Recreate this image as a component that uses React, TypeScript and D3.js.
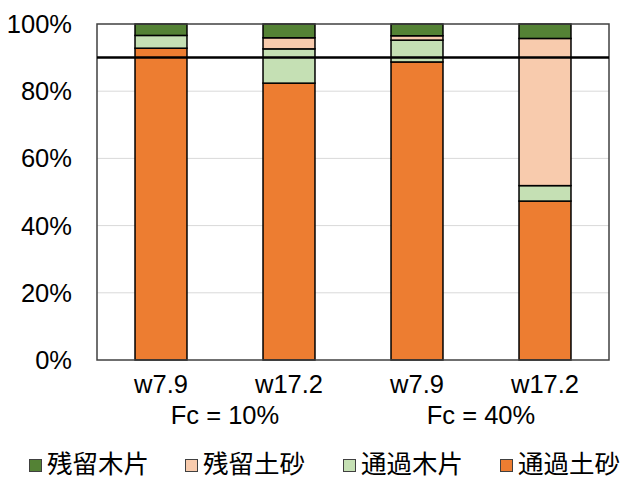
import React from "react";
import * as d3 from "d3";

const categories = ["w7.9", "w17.2", "w7.9", "w17.2"];
const groupLabels = ["Fc = 10%", "Fc = 40%"];
const seriesNames = ["通過土砂", "通過木片", "残留土砂", "残留木片"];
const passSoil = [92.8, 82.4, 88.7, 47.3];
const passWood = [3.8, 10.2, 6.5, 4.6];
const remainSoil = [0, 3.3, 1.3, 43.8];
const remainWood = [3.4, 4.1, 3.5, 4.3];
const yTicks = [0, 20, 40, 60, 80, 100];
const refLine = 90;
const legendOrder = ["残留木片", "残留土砂", "通過木片", "通過土砂"];

const colors: Record<string, string> = {
  通過土砂: "#ED7D31",
  通過木片: "#C5E0B4",
  残留土砂: "#F8CBAD",
  残留木片: "#548235",
};

export default function App() {
  const W = 628, H = 477;
  const left = 97, right = 609, top = 24, bottom = 360;
  const x = d3.scaleBand<number>().domain(d3.range(categories.length)).range([left, right]).paddingInner(0.594).paddingOuter(0.297);
  const y = d3.scaleLinear().domain([0, 100]).range([bottom, top]);
  const rows = categories.map((c, i) => ({
    idx: i,
    通過土砂: passSoil[i],
    通過木片: passWood[i],
    残留土砂: remainSoil[i],
    残留木片: remainWood[i],
  }));
  const stack = d3.stack<any>().keys(seriesNames)(rows);
  const font = "'Liberation Sans', Arial, sans-serif";
  const cjk = "'Noto Sans CJK JP', sans-serif";
  const fs = 25.5;
  const legendX = [29, 185, 343, 500];
  return (
    <svg width={W} height={H} style={{ position: "absolute", left: 0, top: 0 }}>
      <rect x={0} y={0} width={W} height={H} fill="white" />
      {yTicks.map((t) => (
        <g key={t}>
          {t > 0 && t < 100 && (
            <line x1={left} x2={right} y1={y(t)} y2={y(t)} stroke="#d9d9d9" strokeWidth={1} />
          )}
          <text x={72} y={y(t) + 9} textAnchor="end" fontFamily={font} fontSize={fs} fill="#000">
            {t}%
          </text>
        </g>
      ))}
      {stack.map((s) => (
        <g key={s.key}>
          {s.map((d, i) =>
            d[1] - d[0] > 0 ? (
              <rect
                key={i}
                x={x(i)!}
                width={x.bandwidth()}
                y={y(d[1])}
                height={y(d[0]) - y(d[1])}
                fill={colors[s.key]}
                stroke="#000"
                strokeWidth={1.5}
              />
            ) : null
          )}
        </g>
      ))}
      <rect x={left} y={top} width={right - left} height={bottom - top} fill="none" stroke="#404040" strokeWidth={1.5} />
      <line x1={left} x2={right} y1={y(refLine)} y2={y(refLine)} stroke="#000" strokeWidth={2.5} />
      {categories.map((c, i) => (
        <text key={i} x={x(i)! + x.bandwidth() / 2} y={393} textAnchor="middle" fontFamily={font} fontSize={fs} fill="#000">
          {c}
        </text>
      ))}
      {groupLabels.map((g, gi) => {
        const cx = (x(gi * 2)! + x(gi * 2 + 1)! + x.bandwidth()) / 2;
        return (
          <text key={g} x={cx} y={424} textAnchor="middle" fontFamily={font} fontSize={fs} fill="#000">
            {g}
          </text>
        );
      })}
      {legendOrder.map((n, i) => (
        <g key={n}>
          <rect x={legendX[i] + 0.5} y={459.5} width={12} height={12} fill={colors[n]} stroke="#404040" strokeWidth={1} />
          <text x={legendX[i] + 18} y={473} fontFamily={cjk} fontSize={25.5} fill="#000">
            {n}
          </text>
        </g>
      ))}
    </svg>
  );
}
